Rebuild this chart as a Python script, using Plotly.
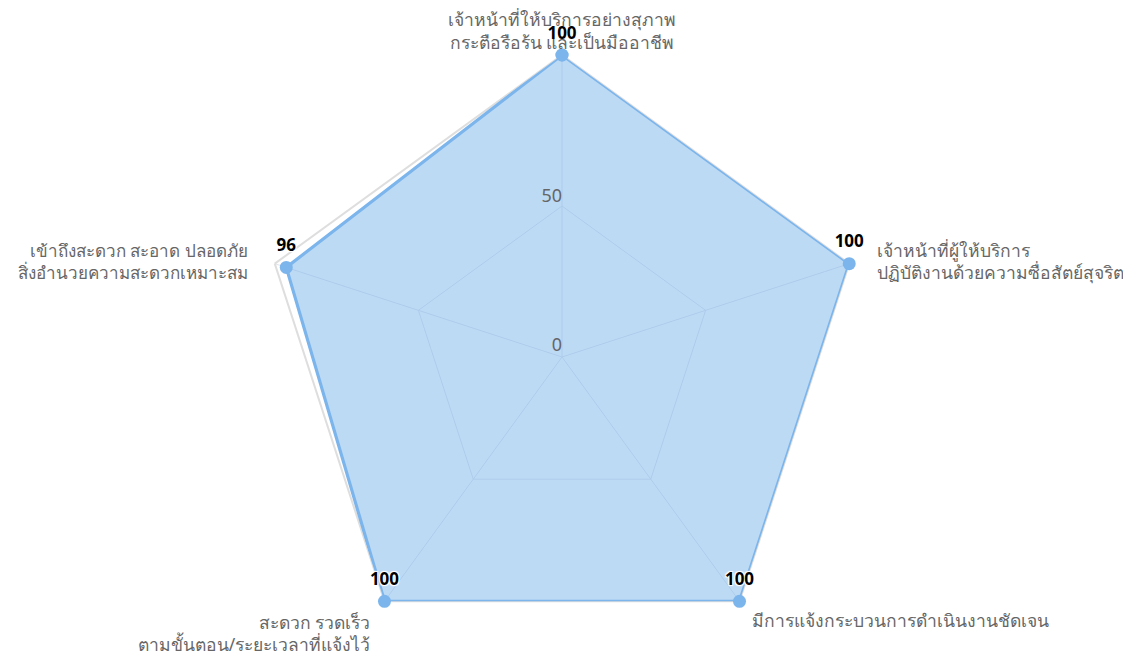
import plotly.graph_objects as go

categories = [
    "เจ้าหน้าที่ให้บริการอย่างสุภาพ<br>กระตือรือร้น และเป็นมืออาชีพ",
    "เจ้าหน้าที่ผู้ให้บริการ<br>ปฏิบัติงานด้วยความซื่อสัตย์สุจริต",
    "มีการแจ้งกระบวนการดำเนินงานชัดเจน",
    "สะดวก รวดเร็ว<br>ตามขั้นตอน/ระยะเวลาที่แจ้งไว้",
    "เข้าถึงสะดวก สะอาด ปลอดภัย<br>สิ่งอำนวยความสะดวกเหมาะสม",
]
values = [100, 100, 100, 100, 96]
radial_ticks = [0, 50]
axis_max = 100

# label placement (styling only): text position and invisible-marker size used as offset
label_pos = ["top center", "middle right", "bottom right", "bottom left", "middle left"]
label_pad = [1, 43, 19, 21, 42]
label_size = [17.5, 17.5, 17.5, 17.5, 17]

line_color = "#7cb5ec"
fill_color = "rgba(124,181,236,0.5)"
font_family = "Noto Sans"
label_color = "#666666"

fig = go.Figure()
# data polygon
fig.add_trace(go.Scatterpolar(
    r=values + [values[0]],
    theta=categories + [categories[0]],
    mode="lines+markers",
    fill="toself",
    fillcolor=fill_color,
    line=dict(color=line_color, width=3.2),
    marker=dict(color=line_color, size=13),
    hoverinfo="skip",
    showlegend=False,
    cliponaxis=False,
))
# data labels
fig.add_trace(go.Scatterpolar(
    r=values,
    theta=categories,
    mode="markers+text",
    marker=dict(size=18, opacity=0),
    text=[str(v) for v in values],
    textposition="top center",
    textfont=dict(family=font_family, size=17, color="black", weight="bold",
                  shadow="1px 1px 1px white, -1px -1px 1px white, 1px -1px 1px white, -1px 1px 1px white"),
    hoverinfo="skip",
    showlegend=False,
    cliponaxis=False,
))
# category labels at the outer vertices
fig.add_trace(go.Scatterpolar(
    r=[axis_max] * len(categories),
    theta=categories,
    mode="markers+text",
    marker=dict(size=label_pad, opacity=0),
    text=categories,
    textposition=label_pos,
    textfont=dict(family=font_family, size=label_size, color=label_color),
    hoverinfo="skip",
    showlegend=False,
    cliponaxis=False,
))
# radial tick labels (the centre one nudged off the exact centre so it is drawn)
fig.add_trace(go.Scatterpolar(
    r=[t if t > 0 else 0.6 for t in radial_ticks],
    theta=[categories[0]] * len(radial_ticks),
    mode="text",
    text=[str(t) for t in radial_ticks],
    textposition="top left",
    textfont=dict(family=font_family, size=18, color=label_color),
    hoverinfo="skip",
    showlegend=False,
    cliponaxis=False,
))

cx, cy, R = 554, 349, 302
W, H = 1131, 657
fig.update_layout(
    width=W,
    height=H,
    margin=dict(l=0, r=0, t=0, b=0),
    paper_bgcolor="white",
    plot_bgcolor="white",
    font=dict(family=font_family, color=label_color, size=16),
    polar=dict(
        domain=dict(x=[(cx - R) / W, (cx + R) / W], y=[(H - cy - R) / H, (H - cy + R) / H]),
        bgcolor="white",
        gridshape="linear",
        radialaxis=dict(
            range=[0, axis_max],
            tickvals=radial_ticks[1:],
            showticklabels=False,
            angle=90,
            showline=False,
            ticks="",
            gridcolor="#dfe3ea",
            layer="below traces",
        ),
        angularaxis=dict(
            rotation=90,
            direction="clockwise",
            gridcolor="#dfe3ea",
            linecolor="#dedede",
            linewidth=2,
            ticks="",
            showticklabels=False,
            layer="below traces",
        ),
    ),
)

fig.write_html("out.html")
